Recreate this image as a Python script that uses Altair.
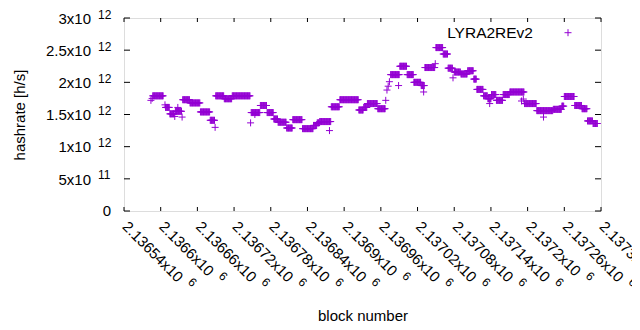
import altair as alt
import pandas as pd

FONT = "Liberation Sans"
COLOR = "#9400d3"
SERIES = "LYRA2REv2"
BASE_BLOCK = 2136540
FS = 15      # tick label / title size
FS_EXP = 12  # exponent size

# plateaus of equal hashrate: first block offset, last block offset, hashrate (x1e12 h/s)
run_start = [47, 68, 75, 84, 96, 108, 125, 141, 150, 164,
             177, 208, 223, 234, 245, 252, 266, 276, 292, 310,
             316, 320, 339, 353, 384, 392, 398, 415, 436, 451,
             463, 474, 486, 492, 510, 522, 530, 540, 551, 562,
             572, 577, 588, 595, 601, 609, 620, 631, 655, 675,
             702, 716, 720, 737, 749, 758, 767]
run_end = [64, 74, 82, 94, 107, 124, 140, 148, 163, 176,
           206, 222, 233, 244, 251, 265, 275, 291, 309, 315,
           319, 338, 352, 383, 391, 397, 414, 427, 450, 462,
           473, 485, 491, 508, 521, 529, 537, 550, 561, 571,
           576, 587, 594, 600, 608, 619, 630, 654, 674, 701,
           715, 719, 736, 748, 757, 766, 774]
run_value = [1.79, 1.61, 1.51, 1.55, 1.73, 1.68, 1.54, 1.41, 1.79, 1.745,
             1.79, 1.53, 1.64, 1.53, 1.43, 1.38, 1.29, 1.42, 1.28, 1.33,
             1.37, 1.39, 1.62, 1.73, 1.57, 1.61, 1.67, 1.59, 2.12, 2.25,
             2.12, 2.00, 1.95, 2.23, 2.54, 2.44, 2.22, 2.16, 2.13, 2.18,
             2.05, 1.89, 1.79, 1.745, 1.81, 1.72, 1.81, 1.85, 1.67, 1.56,
             1.58, 1.63, 1.78, 1.64, 1.59, 1.40, 1.36]

# isolated blocks
single_block = [44, 46, 67, 83, 88, 95, 149, 207, 214, 336,
                428, 430, 432, 434, 449, 490, 509, 538, 598, 650,
                653, 686]
single_value = [1.72, 1.75, 1.65, 1.47, 1.61, 1.46, 1.30, 1.37, 1.50, 1.25,
                1.72, 1.88, 1.94, 2.01, 1.95, 1.85, 2.29, 2.07, 1.67, 1.71,
                1.74, 1.46]

x_tick_values = [2136540, 2136600, 2136660, 2136720, 2136780, 2136840, 2136900,
                 2136960, 2137020, 2137080, 2137140, 2137200, 2137260, 2137320]
x_label_base = ["2.13654x10", "2.1366x10", "2.13666x10", "2.13672x10",
                "2.13678x10", "2.13684x10", "2.1369x10", "2.13696x10",
                "2.13702x10", "2.13708x10", "2.13714x10", "2.1372x10",
                "2.13726x10", "2.13732x10"]
x_label_exp = ["6"] * 14
y_tick_values = [0, 5e11, 1e12, 1.5e12, 2e12, 2.5e12, 3e12]
y_label_base = ["0", "5x10", "1x10", "1.5x10", "2x10", "2.5x10", "3x10"]
y_label_exp = ["", "11", "12", "12", "12", "12", "12"]

rows = []
for s, e, v in zip(run_start, run_end, run_value):
    for b in range(s, e + 1):
        rows.append({"block": BASE_BLOCK + b, "hashrate": v * 1e12})
for b, v in zip(single_block, single_value):
    rows.append({"block": BASE_BLOCK + b, "hashrate": v * 1e12})
df = pd.DataFrame(rows)

W, H = 477, 193
PLUS = "M-1,0H1M0,-1V1"

x_scale = alt.Scale(domain=[x_tick_values[0], x_tick_values[-1]], nice=False, zero=False)
y_scale = alt.Scale(domain=[y_tick_values[0], y_tick_values[-1]], nice=False)

x_axis = alt.Axis(values=x_tick_values, labels=False, ticks=False, tickSize=0,
                  domain=False, grid=False,
                  title="block number", titleFont=FONT, titleFontSize=FS,
                  titleFontWeight="normal", titleColor="black",
                  titleY=109, titleBaseline="alphabetic")
y_axis = alt.Axis(values=y_tick_values, labels=False, ticks=False, tickSize=0,
                  domain=False, grid=False,
                  title="hashrate [h/s]", titleFont=FONT, titleFontSize=FS,
                  titleFontWeight="normal", titleColor="black",
                  titleX=-105, titleY=H / 2, titleAngle=270,
                  titleAlign="center", titleBaseline="middle")

points = alt.Chart(df).mark_point(
    shape=PLUS, size=49, filled=False, color=COLOR, strokeWidth=1, opacity=1
).encode(
    x=alt.X("block:Q", scale=x_scale, axis=x_axis),
    y=alt.Y("hashrate:Q", scale=y_scale, axis=y_axis),
)

ytick_df = pd.DataFrame({"hashrate": y_tick_values, "base": y_label_base, "exp": y_label_exp})
xtick_df = pd.DataFrame({"block": x_tick_values, "base": x_label_base, "exp": x_label_exp})
xtick_df["n"] = xtick_df["base"].str.len()

Y = alt.Y("hashrate:Q", scale=y_scale, axis=y_axis)
X = alt.X("block:Q", scale=x_scale, axis=x_axis)

left_ticks = alt.Chart(ytick_df).mark_rule(color="black", strokeWidth=1).encode(
    y=Y, x=alt.value(0), x2=alt.value(6))
right_ticks = alt.Chart(ytick_df).mark_rule(color="black", strokeWidth=1).encode(
    y=Y, x=alt.value(W - 6), x2=alt.value(W))
bottom_ticks = alt.Chart(xtick_df).mark_rule(color="black", strokeWidth=1).encode(
    x=X, y=alt.value(H - 4), y2=alt.value(H))
top_ticks = alt.Chart(xtick_df).mark_rule(color="black", strokeWidth=1).encode(
    x=X, y=alt.value(0), y2=alt.value(4))

# y tick labels: mantissa + raised exponent
y_base = alt.Chart(ytick_df).transform_filter("datum.hashrate > 0").mark_text(
    align="right", baseline="alphabetic", font=FONT, fontSize=FS, color="black", dy=5.7
).encode(y=Y, x=alt.value(-33), text="base:N")
y_exp = alt.Chart(ytick_df).transform_filter("datum.hashrate > 0").mark_text(
    align="left", baseline="alphabetic", font=FONT, fontSize=FS_EXP, color="black", dy=0.6
).encode(y=Y, x=alt.value(-26), text="exp:N")
y_zero = alt.Chart(ytick_df).transform_filter("datum.hashrate == 0").mark_text(
    align="right", baseline="alphabetic", font=FONT, fontSize=FS, color="black", dy=4.5
).encode(y=Y, x=alt.value(-13), text="base:N")

# x tick labels: rotated mantissa + raised exponent
x_base = alt.Chart(xtick_df).mark_text(
    align="left", baseline="middle", font=FONT, fontSize=FS, color="black",
    angle=45, dx=1.5
).encode(x=X, y=alt.value(H + 12), text="base:N")
x_exp_long = alt.Chart(xtick_df).transform_filter("datum.n == 10").mark_text(
    align="left", baseline="middle", font=FONT, fontSize=FS_EXP, color="black",
    angle=45, dx=87, dy=-6.6
).encode(x=X, y=alt.value(H + 12), text="exp:N")
x_exp_short = alt.Chart(xtick_df).transform_filter("datum.n == 9").mark_text(
    align="left", baseline="middle", font=FONT, fontSize=FS_EXP, color="black",
    angle=45, dx=78.5, dy=-6.6
).encode(x=X, y=alt.value(H + 12), text="exp:N")

legend_df = pd.DataFrame({"label": [SERIES]})
legend_text = alt.Chart(legend_df).mark_text(
    align="right", baseline="alphabetic", font=FONT, fontSize=15.5, color="black"
).encode(x=alt.value(409), y=alt.value(20.3), text="label:N")
legend_sym = alt.Chart(legend_df).mark_point(
    shape=PLUS, size=49, filled=False, color=COLOR, strokeWidth=1, opacity=1
).encode(x=alt.value(444), y=alt.value(14.7))

chart = alt.layer(
    points, left_ticks, right_ticks, bottom_ticks, top_ticks,
    y_base, y_exp, y_zero, x_base, x_exp_long, x_exp_short,
    legend_text, legend_sym
).properties(
    width=W, height=H,
    autosize=alt.AutoSizeParams(type="none"),
    padding={"left": 116, "top": 10, "right": 31, "bottom": 111},
).configure_view(
    stroke="black", strokeWidth=1
).configure(background="white")

chart.save("out.html", embed_options={"renderer": "svg", "actions": False})
